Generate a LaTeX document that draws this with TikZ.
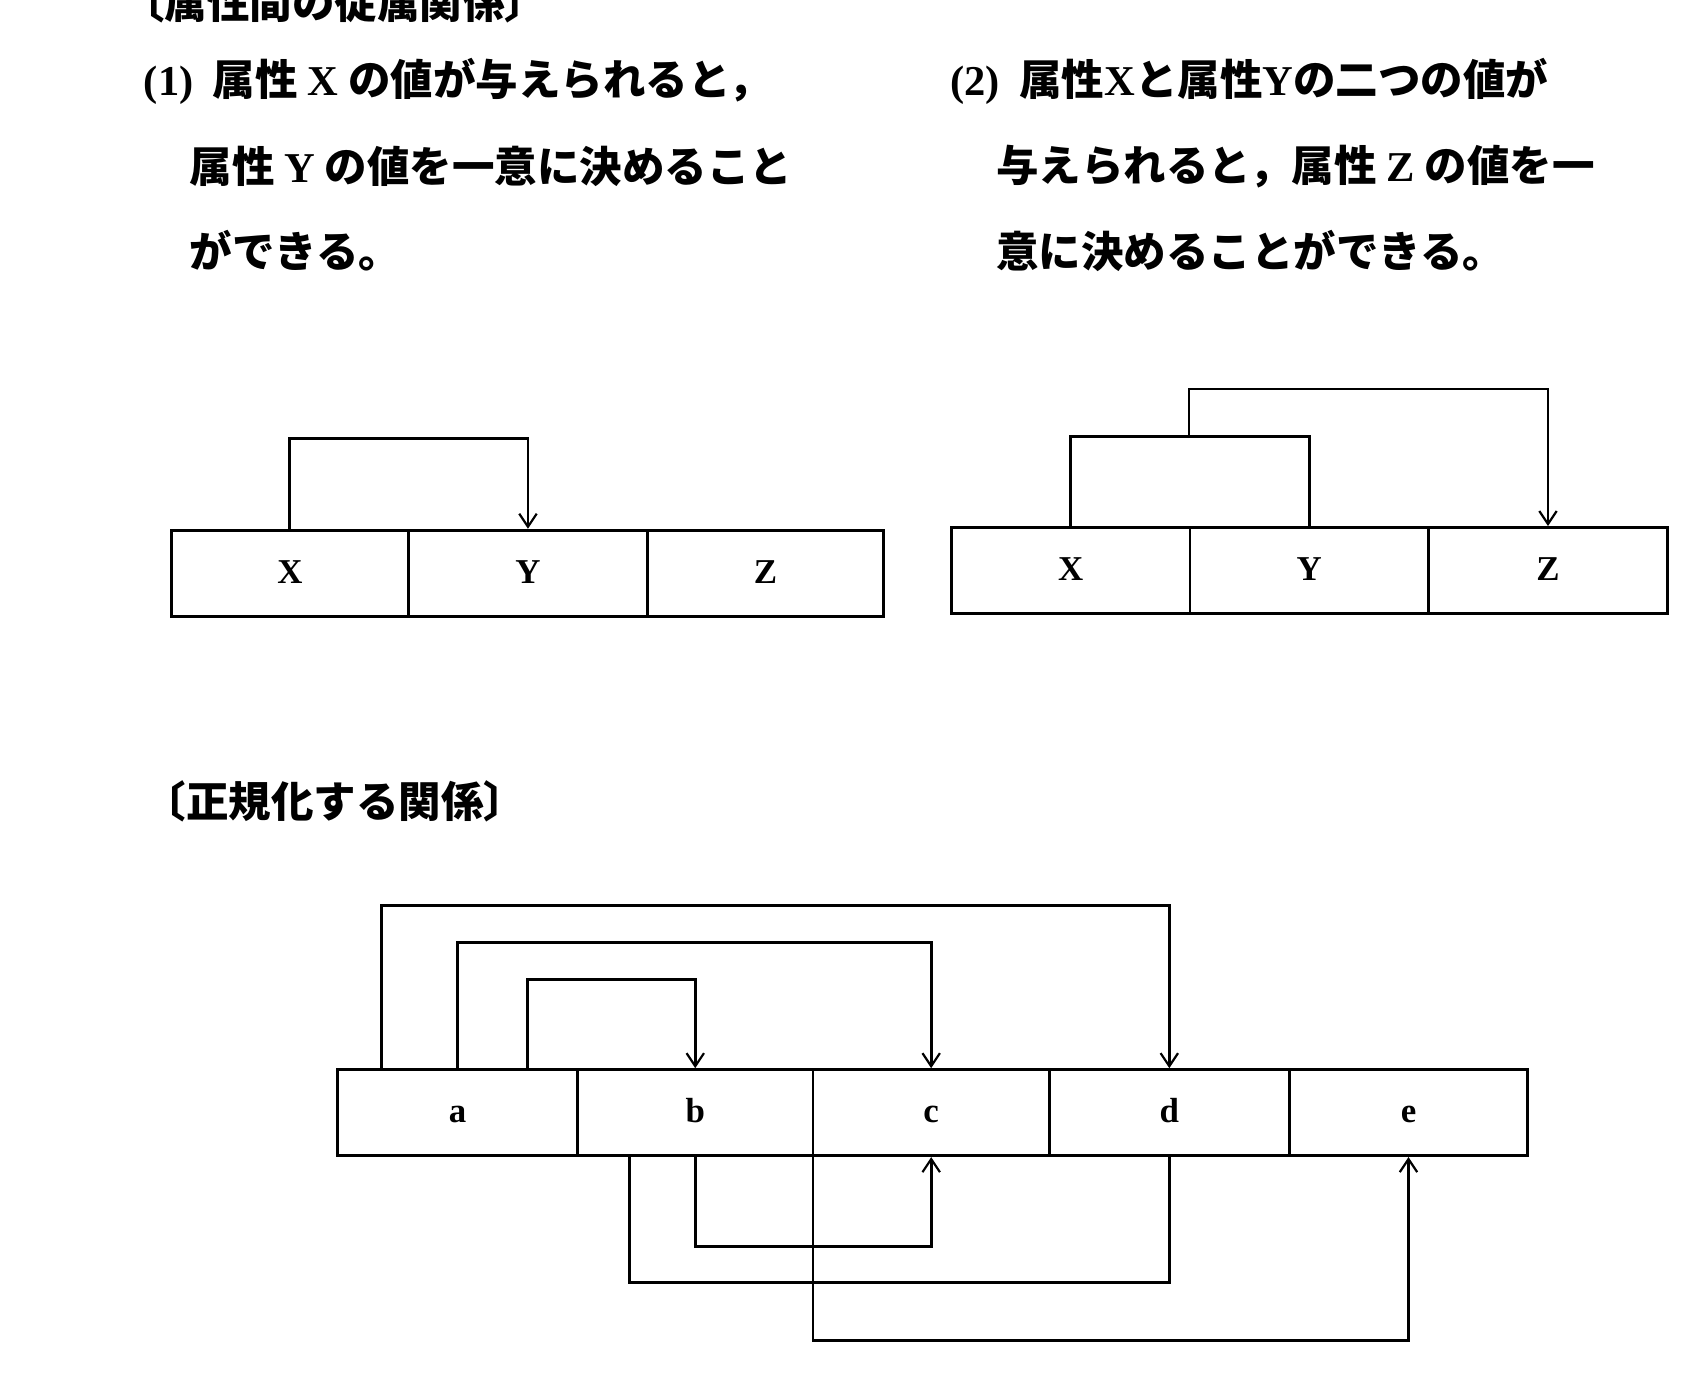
\documentclass[tikz,border=0pt]{standalone}
\usepackage{fontspec}
\setmainfont{Liberation Serif}
\newfontfamily\cjk{Noto Sans CJK JP}
\usetikzlibrary{arrows.meta,calc}
\newcommand{\lt}[1]{{\rmfamily\bfseries #1}}
\begin{document}
\begin{tikzpicture}[x=0.5pt,y=-0.5pt,
  cell/.style={draw,line width=1.3pt,minimum height=39.5pt,inner sep=0pt,text height=9pt,text depth=0pt,font=\fontsize{16}{16}\selectfont\bfseries},
  ln/.style={line width=1.3pt},
  ar/.style={ln,-{Straight Barb[length=6pt,width=8pt,line width=1pt]}},
  jt/.style={anchor=west,font=\cjk\fontsize{19.5}{19.5}\selectfont\bfseries}]
\useasboundingbox (0,0) rectangle (1560,1266);
\node[jt] (h0) at (105,2) {〔属性間の従属関係〕};
\node[jt] (t1) at (125,75) {\lt{(1)}\ \ 属性 \lt{X} の値が与えられると，};
\node[jt] (t2) at (167,153) {属性 \lt{Y} の値を一意に決めること};
\node[jt] (t3) at (167,230) {ができる。};
\node[jt] (u1) at (865,75) {\lt{(2)}\ \ 属性\lt{X}と属性\lt{Y}の二つの値が};
\node[jt] (u2) at (907,153) {与えられると，属性 \lt{Z} の値を一};
\node[jt] (u3) at (907,230) {意に決めることができる。};
\node[jt] (h2) at (125,735) {〔正規化する関係〕};
% diagram 1
\node[cell,minimum width=109pt] (X1) at (266,526) {X};
\node[cell,minimum width=109.5pt] (Y1) at (484.5,526) {Y};
\node[cell,minimum width=108.5pt] (Z1) at (702.5,526) {Z};
\draw[ar] (X1.north) -- ++(0,-83) -| (Y1.north);
% diagram 2
\node[cell,minimum width=109.5pt] (X2) at (982.5,523.5) {X};
\node[cell,minimum width=109.5pt] (Y2) at (1201.5,523.5) {Y};
\node[cell,minimum width=109.5pt] (Z2) at (1420.5,523.5) {Z};
\draw[ln] (X2.north) -- ++(0,-82) -| (Y2.north);
\coordinate (m2) at (1091,402);
\draw[ar] (m2) -- ++(0,-45) -| (Z2.north);
% bottom
\node[cell,minimum width=110pt] (a) at (420,1021) {a};
\node[cell,minimum width=108pt] (b) at (638,1021) {b};
\node[cell,minimum width=108.5pt] (c) at (854.5,1021) {c};
\node[cell,minimum width=110pt] (d) at (1073,1021) {d};
\node[cell,minimum width=109.5pt] (e) at (1292.5,1021) {e};
\draw[ar] ($(a.north)+(-70,0)$) -- ++(0,-149) -| (d.north);
\draw[ar] (a.north) -- ++(0,-115) -| (c.north);
\draw[ar] ($(a.north)+(64,0)$) -- ++(0,-81) -| (b.north);
\draw[ar] (b.south) -- ++(0,82) -| (c.south);
\draw[ln] ($(b.south)+(-60,0)$) -- ++(0,115) -| (d.south);
\draw[ar] ($(c.south)+(-108.5,0)$) -- ++(0,168) -| (e.south);
\end{tikzpicture}
\end{document}
